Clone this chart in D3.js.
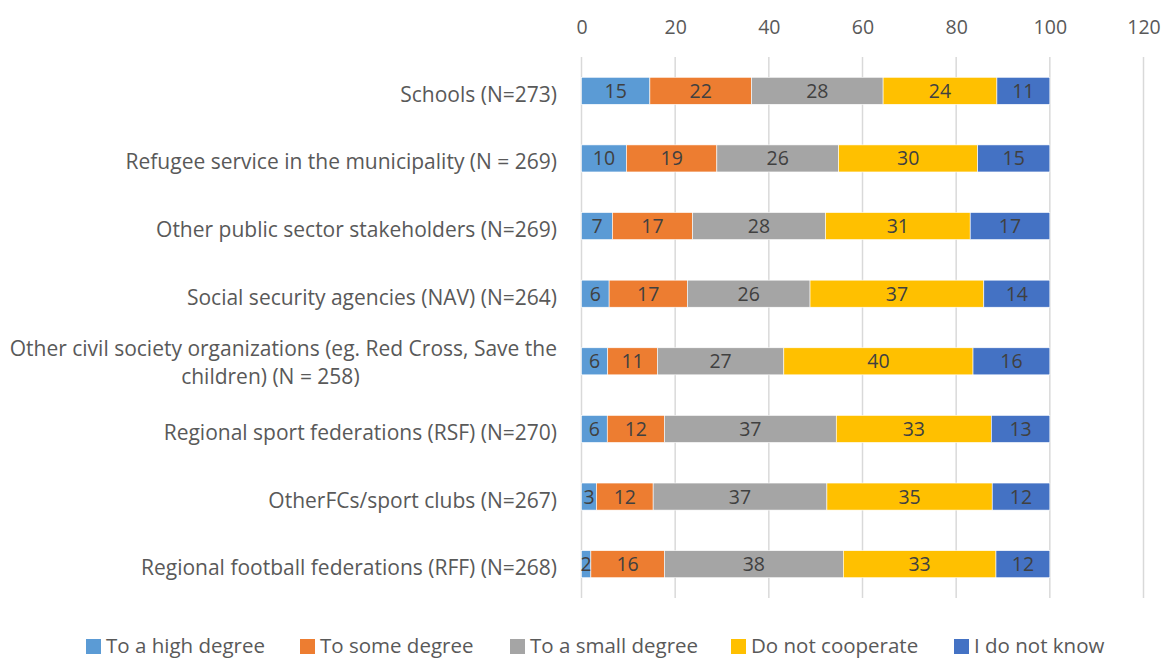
<!DOCTYPE html>
<meta charset="utf-8">
<html>
<style>
body { margin: 0; background: #fff; }
text { font-family: "Open Sans", sans-serif; }
.tick text { fill: #595959; font-size: 19.5px; }
.cat { fill: #595959; font-size: 21px; }
.val { fill: #404040; font-size: 19.5px; text-anchor: middle; }
.leg { fill: #595959; font-size: 20.5px; }
</style>
<svg width="1164" height="658"></svg>
<script src="https://d3js.org/d3.v7.min.js"></script>
<script>
var categories = [
  "Schools (N=273)",
  "Refugee service in the municipality (N = 269)",
  "Other public sector stakeholders (N=269)",
  "Social security agencies (NAV) (N=264)",
  "Other civil society organizations (eg. Red Cross, Save the|children) (N = 258)",
  "Regional sport federations (RSF) (N=270)",
  "OtherFCs/sport clubs (N=267)",
  "Regional football federations (RFF) (N=268)"
];
var seriesNames = ["To a high degree", "To some degree", "To a small degree", "Do not cooperate", "I do not know"];
var colors = ["#5B9BD5", "#ED7D31", "#A5A5A5", "#FFC000", "#4472C4"];

var highDegree  = [14.6, 9.6, 6.6, 5.9, 5.6, 5.5, 3.2, 2.0];
var someDegree  = [21.7, 19.3, 17.1, 16.7, 10.6, 12.2, 12.1, 15.7];
var smallDegree = [28.1, 26.0, 28.4, 26.2, 27.0, 36.7, 37.1, 38.2];
var notCoop     = [24.3, 29.7, 30.9, 37.1, 40.4, 33.1, 35.3, 32.6];
var dontKnow    = [11.3, 15.4, 17.0, 14.1, 16.4, 12.5, 12.3, 11.5];
var xTicks = [0, 20, 40, 60, 80, 100, 120];

var series = [highDegree, someDegree, smallDegree, notCoop, dontKnow];
var rows = categories.map(function(c, i) {
  var r = {cat: c};
  seriesNames.forEach(function(s, k) { r[s] = series[k][i]; });
  return r;
});

var svg = d3.select("svg");
var x = d3.scaleLinear().domain([0, 120]).range([581.5, 1143.5]);
var y = d3.scaleBand().domain(categories).range([57, 598]).paddingInner(0.6).paddingOuter(0.3);

// gridlines
svg.append("g").selectAll("line").data(xTicks).join("line")
  .attr("x1", d => x(d)).attr("x2", d => x(d))
  .attr("y1", 57).attr("y2", 598)
  .attr("stroke", "#D9D9D9").attr("stroke-width", 1.5);

// top axis
var axis = svg.append("g").attr("transform", "translate(0,27)")
  .call(d3.axisTop(x).tickValues(xTicks).tickSize(0).tickPadding(0));
axis.select(".domain").remove();
axis.selectAll(".tick text").attr("dy", "0.36em");

var stack = d3.stack().keys(seriesNames)(rows);

var layer = svg.append("g").selectAll("g").data(stack).join("g")
  .attr("fill", (d, i) => colors[i]);

layer.selectAll("rect").data(d => d).join("rect")
  .attr("x", d => x(d[0]))
  .attr("width", d => x(d[1]) - x(d[0]))
  .attr("y", d => y(d.data.cat))
  .attr("height", y.bandwidth())
  .attr("stroke", "#fff").attr("stroke-width", 0.6);

layer.each(function(s) {
  d3.select(this).selectAll("text").data(s).join("text")
    .attr("class", "val")
    .attr("x", d => (x(d[0]) + x(d[1])) / 2)
    .attr("y", d => y(d.data.cat) + y.bandwidth() / 2)
    .attr("dy", "0.36em")
    .text(d => Math.round(d.data[s.key]));
});

// category labels
categories.forEach(function(c) {
  var lines = c.split("|");
  var cy = y(c) + y.bandwidth() / 2;
  if (lines.length === 1) {
    svg.append("text").attr("class", "cat")
      .attr("x", 557).attr("y", cy + 11)
      .attr("text-anchor", "end").text(c);
  } else {
    var t1 = svg.append("text").attr("class", "cat")
      .attr("x", 557).attr("y", cy - 5)
      .attr("text-anchor", "end").text(lines[0]);
    var w = t1.node().getComputedTextLength();
    svg.append("text").attr("class", "cat")
      .attr("x", 557 - w / 2 - 13).attr("y", cy + 23)
      .attr("text-anchor", "middle").text(lines[1]);
  }
});

// legend
var legX = [86, 300, 510, 731, 954];
var leg = svg.append("g").selectAll("g").data(seriesNames).join("g")
  .attr("transform", (d, i) => "translate(" + legX[i] + ",646)");
leg.append("rect").attr("x", 0).attr("y", -7).attr("width", 15).attr("height", 15)
  .attr("fill", (d, i) => colors[i]);
leg.append("text").attr("class", "leg").attr("x", 20).attr("y", 7).text(d => d);
</script>
</html>
